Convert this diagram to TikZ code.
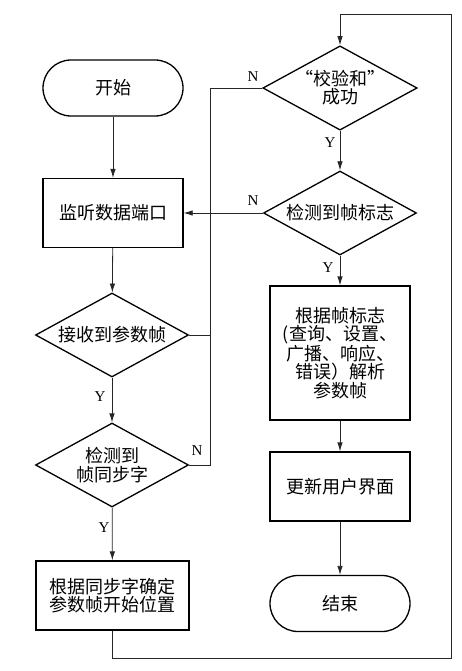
\documentclass[tikz,border=0pt]{standalone}
\usepackage{fontspec}
\setmainfont{Liberation Serif}
\newfontfamily\cjk{Noto Sans CJK SC}
\usetikzlibrary{shapes.geometric,arrows.meta}
\tikzset{
  shp/.style={draw=black, line width=1.3pt, font=\cjk\fontsize{18}{18.3}\selectfont, align=center, inner sep=0pt},
  boxnode/.style={shp, rectangle, minimum width=140pt},
  term/.style={shp, rectangle, rounded corners=28pt, minimum width=140pt, minimum height=56pt},
  dia/.style={shp, diamond, aspect=1.83, minimum width=153pt, minimum height=84pt},
  conn/.style={draw=black!85, line width=0.8pt},
  arr/.style={conn, -{Latex[length=9pt,width=5.5pt]}},
  lbl/.style={font=\fontsize{15}{15}\selectfont, inner sep=0pt}
}
\begin{document}
\begin{tikzpicture}[x=1pt,y=-1pt]
\useasboundingbox (0,0) rectangle (462,671);
% left column
\node[term] (start) at (113,88) {开始};
\node[boxnode, minimum height=69pt] (listen) at (113,213) {监听数据端口};
\node[dia] (recv) at (112,335) {接收到参数帧};
\node[dia] (sync) at (112,465) {检测到\\帧同步字};
\node[boxnode, minimum width=153pt, minimum height=69pt] (locate) at (112.5,595.5) {根据同步字确定\\参数帧开始位置};
% right column
\node[dia] (check) at (340,88) {“校验和”\\成功};
\node[dia] (flag) at (340,213) {检测到帧标志};
\node[boxnode, minimum height=134pt] (parse) at (340,353) {根据帧标志\\(查询、设置、\\广播、响应、\\错误）解析\\参数帧};
\node[boxnode, minimum height=69pt] (update) at (340,486.5) {更新用户界面};
\node[term] (end) at (340,603.5) {结束};
% helper coordinates
\coordinate (vtop) at (210,88);
\coordinate (vbot) at (210,465);
\coordinate (loopB) at (451,658);
\coordinate (loopT) at (451,14);
% connectors
\draw[arr] (start) -- (listen);
\draw[arr] (listen) -- (recv);
\draw[arr] (recv) -- (sync);
\draw[arr] (sync) -- (locate);
\draw[arr] (locate.south) |- (loopB) -- (loopT) -| (check.north);
\draw[arr] (check) -- (flag);
\draw[arr] (flag.west) -- (listen.east);
\draw[arr] (flag) -- (parse);
\draw[arr] (parse) -- (update);
\draw[arr] (update) -- (end);
\draw[conn] (check.west) -- (vtop) -- (vbot) -- (sync.east);
\draw[conn] (recv.east) -- (recv.east -| vtop);
% labels
\node[lbl] (n1) at (253,77) {N};
\node[lbl] (n2) at (253,201) {N};
\node[lbl] (n3) at (197,451) {N};
\node[lbl] (y1) at (330,143) {Y};
\node[lbl] (y2) at (328,268) {Y};
\node[lbl] (y3) at (100,397) {Y};
\node[lbl] (y4) at (104,528) {Y};
\end{tikzpicture}
\end{document}
